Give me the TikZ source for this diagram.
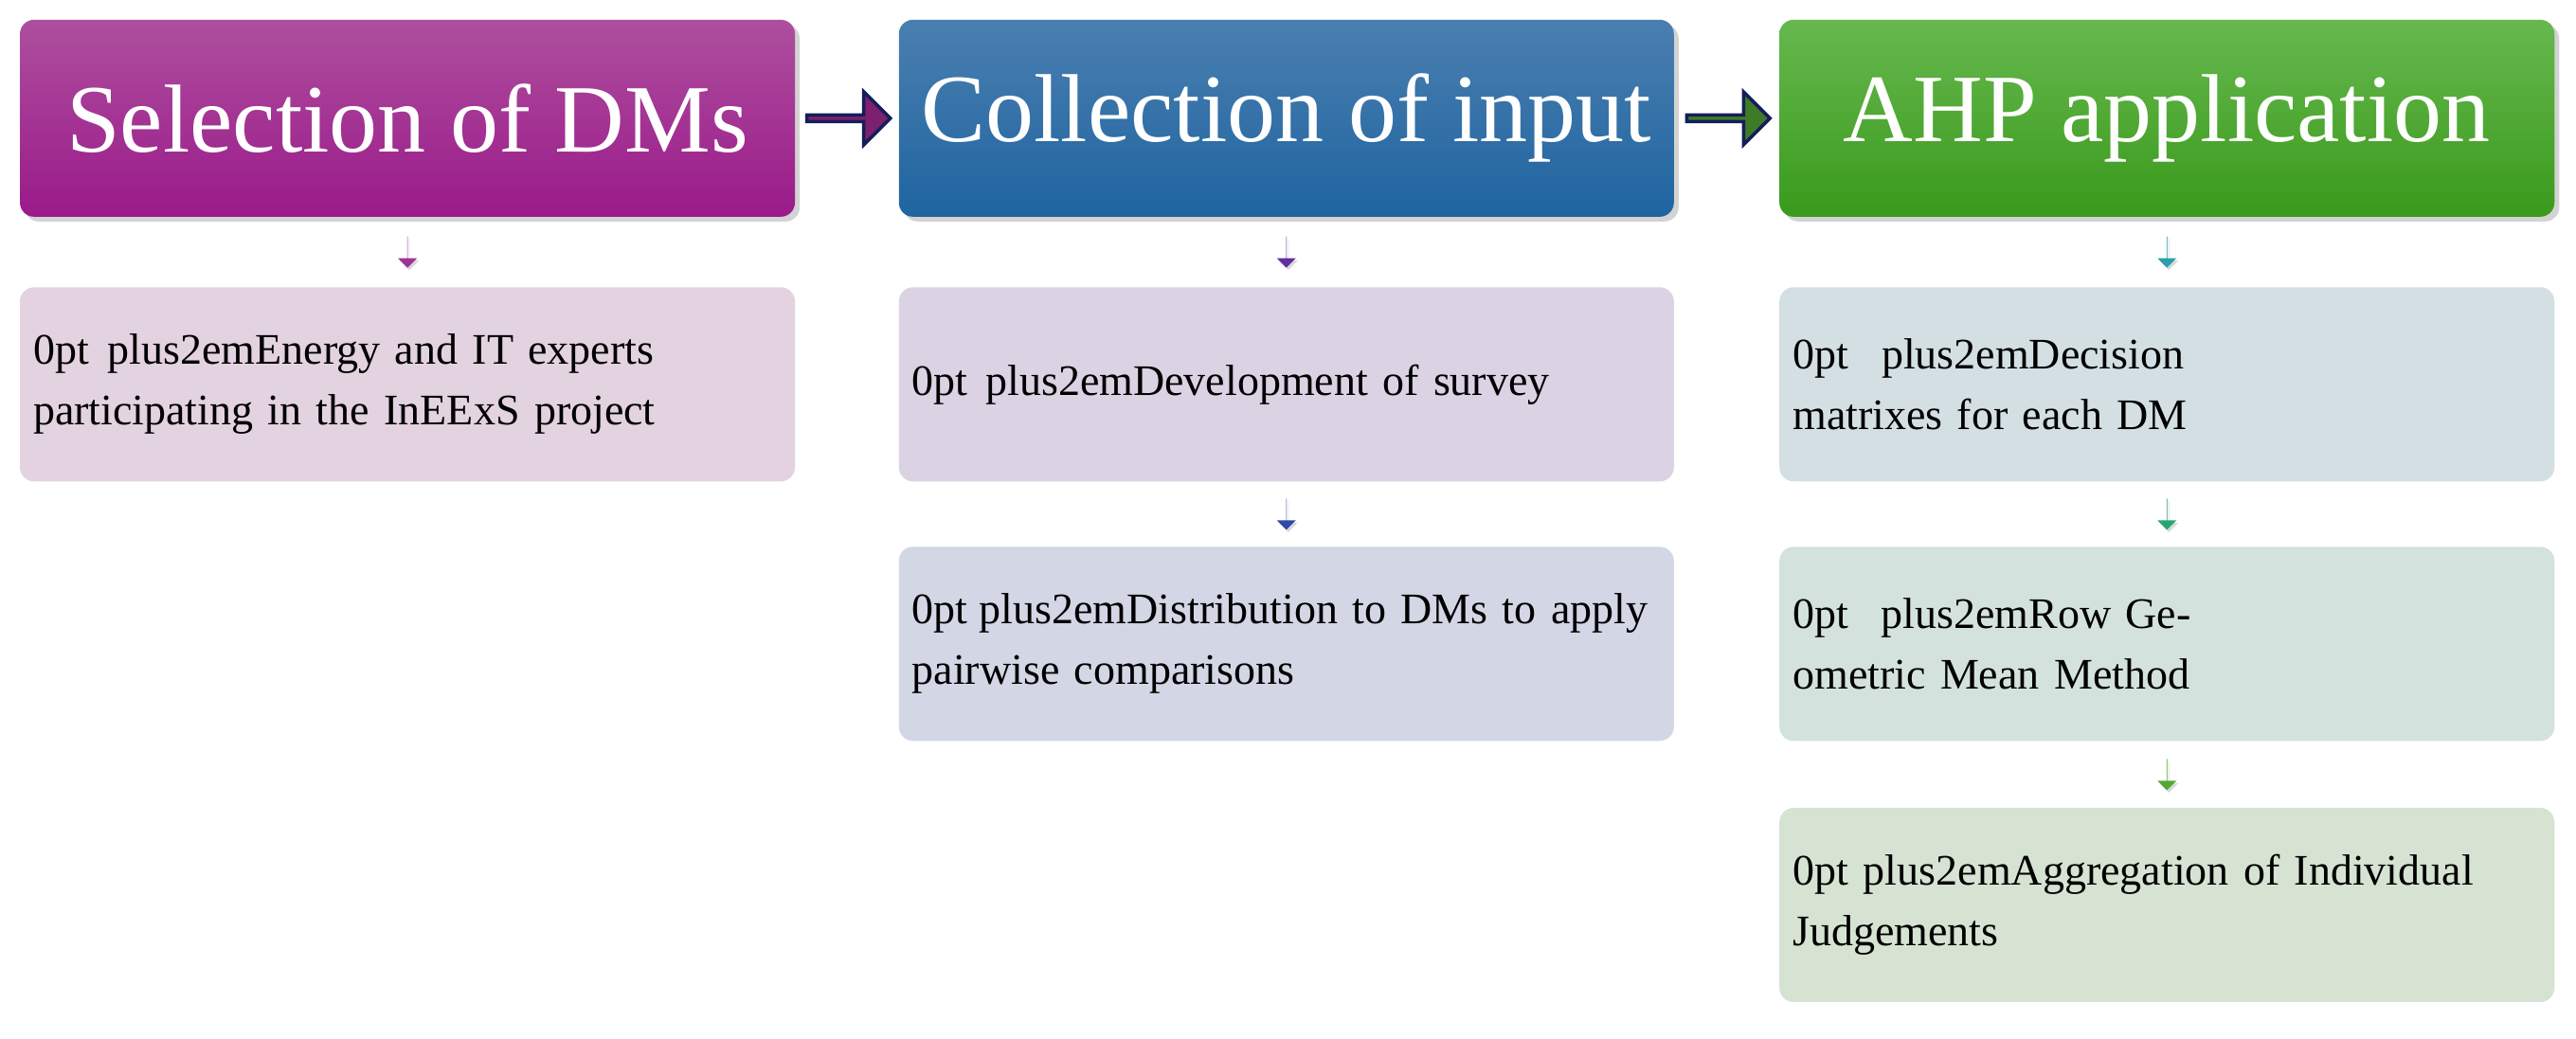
\documentclass[tikz,border=0pt]{standalone}
\usepackage{fontspec}
\setmainfont{Liberation Serif}
\usetikzlibrary{shadows,shapes.arrows,calc}
\definecolor{h1t}{HTML}{AE4F9E}\definecolor{h1b}{HTML}{9A1A8A}
\definecolor{h2t}{HTML}{4A7FB0}\definecolor{h2b}{HTML}{1F64A0}
\definecolor{h3t}{HTML}{66B84E}\definecolor{h3b}{HTML}{3A9A1C}
\definecolor{s11}{HTML}{E3D2E0}
\definecolor{s21}{HTML}{DBD2E3}\definecolor{s22}{HTML}{D3D6E5}
\definecolor{s31}{HTML}{D3DFE3}\definecolor{s32}{HTML}{D4E2DE}\definecolor{s33}{HTML}{D6E3D3}
\definecolor{a1c}{RGB}{125,32,110}\definecolor{a2c}{RGB}{62,122,40}
\definecolor{d1c}{RGB}{160,50,150}\definecolor{d2c}{RGB}{100,45,160}\definecolor{d3c}{RGB}{45,75,170}
\definecolor{d4c}{RGB}{40,160,170}\definecolor{d5c}{RGB}{40,165,110}\definecolor{d6c}{RGB}{80,170,50}
\definecolor{adraw}{RGB}{20,30,90}
\begin{document}
\begin{tikzpicture}[x=1.734pt,y=-1.734pt,
 head/.style={rounded corners=15pt,minimum width=818pt,minimum height=208pt,inner sep=0pt,
   text=white,font=\fontsize{102}{110}\selectfont,drop shadow={shadow xshift=5pt,shadow yshift=-5pt,opacity=0.35}},
 sub/.style={rounded corners=15pt,minimum width=818pt,minimum height=205pt,inner sep=0pt,
   align=center,text width=790pt,font=\fontsize{46}{64}\selectfont\hyphenpenalty=10000},
 harr/.style={single arrow,draw=adraw,line width=3.5pt,minimum width=56pt,single arrow head extend=12pt,
   minimum height=88pt,inner sep=0pt},
 darr/.style={single arrow,shape border rotate=270,minimum width=20pt,single arrow head extend=7pt,
   minimum height=33pt,inner sep=0pt,drop shadow={shadow xshift=2pt,shadow yshift=-2.5pt,opacity=0.3}}]
\useasboundingbox (0,0) rectangle (1568,632.6);
\node[head,top color=h1t,bottom color=h1b] (h1) at (248,72) {Selection of DMs};
\node[head,top color=h2t,bottom color=h2b] (h2) at (783,72) {Collection of input};
\node[head,top color=h3t,bottom color=h3b] (h3) at (1319,72) {AHP application};
\node[sub,fill=s11] (a1) at (248,234) {Energy and IT experts\\participating in the InEExS project};
\node[sub,fill=s21] (b1) at (783,234) {Development of survey};
\node[sub,fill=s22] (b2) at (783,392) {Distribution to DMs to apply\\pairwise comparisons};
\node[sub,fill=s31] (c1) at (1319,234) {Decision matrixes for each DM};
\node[sub,fill=s32] (c2) at (1319,392) {Row Geometric Mean Method};
\node[sub,fill=s33] (c3) at (1319,551) {Aggregation of Individual\\Judgements};
\node[harr,fill=a1c] (ar1) at ($(h1.east)!0.5!(h2.west)$) {};
\node[harr,fill=a2c] (ar2) at ($(h2.east)!0.5!(h3.west)$) {};
\node[darr,fill=d1c] (d1) at ($(h1.south)!0.5!(a1.north)$) {};
\node[darr,fill=d2c] (d2) at ($(h2.south)!0.5!(b1.north)$) {};
\node[darr,fill=d3c] (d3) at ($(b1.south)!0.5!(b2.north)$) {};
\node[darr,fill=d4c] (d4) at ($(h3.south)!0.5!(c1.north)$) {};
\node[darr,fill=d5c] (d5) at ($(c1.south)!0.5!(c2.north)$) {};
\node[darr,fill=d6c] (d6) at ($(c2.south)!0.5!(c3.north)$) {};
\end{tikzpicture}
\end{document}
